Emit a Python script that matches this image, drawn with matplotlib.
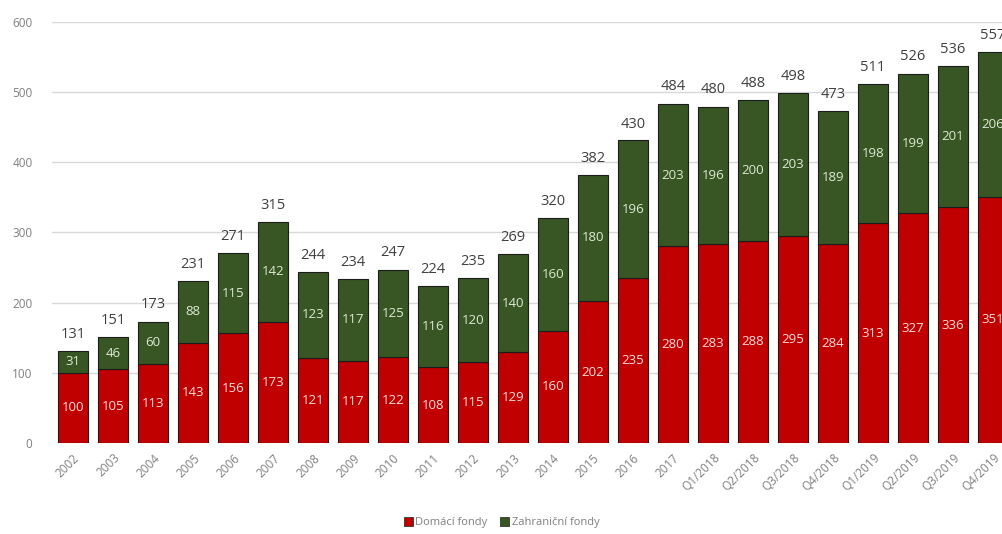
import matplotlib
matplotlib.use("Agg")
import matplotlib.pyplot as plt
from matplotlib.patches import Patch

categories = ["2002", "2003", "2004", "2005", "2006", "2007", "2008", "2009",
              "2010", "2011", "2012", "2013", "2014", "2015", "2016", "2017",
              "Q1/2018", "Q2/2018", "Q3/2018", "Q4/2018",
              "Q1/2019", "Q2/2019", "Q3/2019", "Q4/2019"]
domestic = [100, 105, 113, 143, 156, 173, 121, 117, 122, 108, 115, 129, 160,
            202, 235, 280, 283, 288, 295, 284, 313, 327, 336, 351]
foreign = [31, 46, 60, 88, 115, 142, 123, 117, 125, 116, 120, 140, 160,
           180, 196, 203, 196, 200, 203, 189, 198, 199, 201, 206]
totals = [131, 151, 173, 231, 271, 315, 244, 234, 247, 224, 235, 269, 320,
          382, 430, 484, 480, 488, 498, 473, 511, 526, 536, 557]
y_ticks = [0, 100, 200, 300, 400, 500, 600]
legend_labels = ["Domácí fondy", "Zahraniční fondy"]

plt.rcParams['font.family'] = ['Open Sans', 'DejaVu Sans']

RED = "#C00000"
GREEN = "#375623"
EDGE = "#1c1c1c"
GRAY = "#7f7f7f"

fig = plt.figure(figsize=(10.03, 5.34), dpi=100)
ax = fig.add_axes([0.0518, 0.1704, 0.9482, 0.789])

x = list(range(len(categories)))
w = 0.75
b1 = ax.bar(x, domestic, width=w, color=RED, edgecolor=EDGE, linewidth=0.8, zorder=3)
b2 = ax.bar(x, foreign, width=w, bottom=domestic, color=GREEN, edgecolor=EDGE,
            linewidth=0.8, zorder=3)

for i in x:
    ax.text(i, domestic[i] / 2, str(domestic[i]), ha='center', va='center',
            color='#f6dcdc', fontsize=9.5, zorder=4)
    ax.text(i, domestic[i] + foreign[i] / 2, str(foreign[i]), ha='center', va='center',
            color='#dfe9d6', fontsize=9.5, zorder=4)
    ax.annotate(str(totals[i]), (i, totals[i]), xytext=(0, 12), textcoords='offset points',
                ha='center', va='center', color='#404040', fontsize=10.5,
                annotation_clip=False, zorder=4)

ax.set_xlim(-0.525, 23.25)
ax.set_ylim(0, 600)
ax.set_yticks(y_ticks)
ax.set_yticklabels([str(t) for t in y_ticks], color=GRAY, fontsize=8.5)
ax.set_xticks(x)
ax.set_xticklabels(categories, rotation=45, ha='right', rotation_mode='anchor',
                   color=GRAY, fontsize=8.5)
ax.tick_params(axis='both', length=0)
ax.tick_params(axis='y', pad=14)
ax.tick_params(axis='x', pad=6)
ax.grid(axis='y', color='#d9d9d9', linewidth=1.0, zorder=0)
for s in ax.spines.values():
    s.set_visible(False)

handles = [Patch(facecolor=RED, edgecolor=EDGE, linewidth=0.5),
           Patch(facecolor=GREEN, edgecolor=EDGE, linewidth=0.5)]
fig.legend(handles, legend_labels, loc='center', bbox_to_anchor=(0.5, 0.021),
           ncol=2, frameon=False, fontsize=8, labelcolor=GRAY,
           handlelength=0.8, handleheight=0.8, handletextpad=0.2, columnspacing=1.2)

fig.savefig("out.png", dpi=100)
